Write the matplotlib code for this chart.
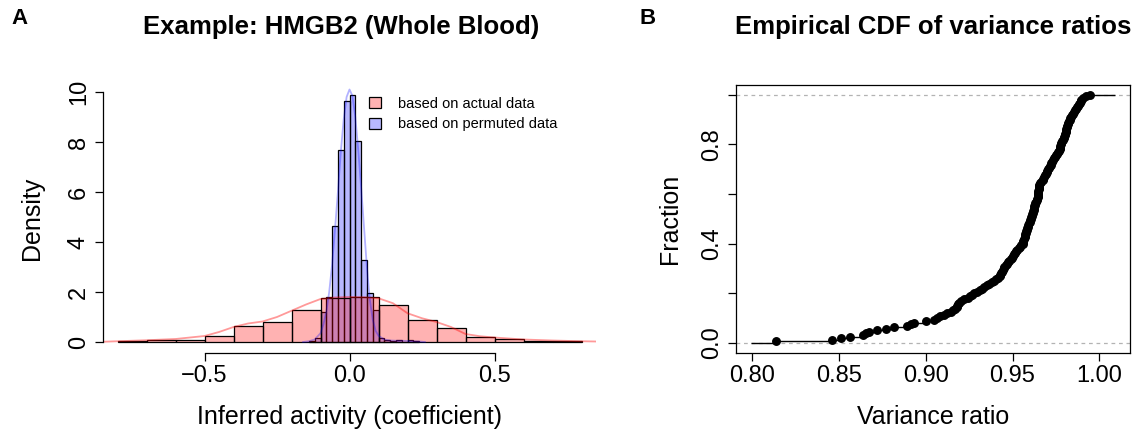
import numpy as np
import matplotlib.pyplot as plt
from matplotlib.patches import Patch

plt.rcParams['font.family'] = ['Liberation Sans', 'DejaVu Sans']

# ---- panel A: histograms (density scale) ----
red_breaks = [-0.8, -0.7, -0.6, -0.5, -0.4, -0.3, -0.2, -0.1, 0.0,
              0.1, 0.2, 0.3, 0.4, 0.5, 0.6, 0.7, 0.8]
red_density = [0.04, 0.10, 0.08, 0.25, 0.64, 0.80, 1.30, 1.75,
               1.79, 1.49, 0.89, 0.57, 0.21, 0.13, 0.05, 0.04]

blue_breaks = [-0.14, -0.12, -0.10, -0.08, -0.06, -0.04, -0.02, 0.00, 0.02, 0.04,
               0.06, 0.08, 0.10, 0.12, 0.14, 0.16, 0.18, 0.20, 0.22, 0.24]
blue_density = [0.05, 0.15, 1.19, 1.79, 4.65, 7.70, 9.65, 9.87, 8.06, 3.29,
                1.97, 1.28, 0.15, 0.08, 0.04, 0.07, 0.02, 0.07, 0.04]

# smoothed density lines
red_kde_x = [-0.85, -0.8, -0.7, -0.6, -0.5, -0.45, -0.4, -0.35, -0.3, -0.25, -0.2, -0.15,
             -0.1, -0.05, 0.0, 0.05, 0.1, 0.15, 0.2, 0.25, 0.3, 0.35, 0.4, 0.45,
             0.5, 0.6, 0.7, 0.8, 0.85]
red_kde_y = [0.01, 0.03, 0.07, 0.12, 0.24, 0.40, 0.60, 0.74, 0.82, 1.00, 1.25, 1.50,
             1.72, 1.78, 1.80, 1.79, 1.75, 1.55, 1.15, 0.95, 0.80, 0.60, 0.32, 0.23,
             0.18, 0.10, 0.06, 0.03, 0.02]

blue_kde_x = [-0.16, -0.14, -0.12, -0.10, -0.09, -0.08, -0.07, -0.06, -0.05, -0.04,
              -0.03, -0.02, -0.01, 0.0, 0.01, 0.02, 0.03, 0.04, 0.05, 0.06, 0.07,
              0.08, 0.09, 0.10, 0.12, 0.14, 0.16, 0.18, 0.20, 0.22, 0.24, 0.26]
blue_kde_y = [0.0, 0.03, 0.10, 0.35, 0.70, 1.20, 2.00, 3.10, 4.50, 6.00,
              7.60, 8.90, 9.80, 10.10, 9.85, 9.00, 7.70, 6.20, 4.60, 3.00, 1.70,
              0.90, 0.45, 0.25, 0.10, 0.06, 0.05, 0.05, 0.04, 0.03, 0.02, 0.0]

legend_labels = ['based on actual data', 'based on permuted data']

# ---- panel B: sorted variance ratios ----
variance_ratio = [
    0.8135, 0.8462, 0.8510, 0.8564, 0.8640, 0.8655, 0.8675, 0.8721, 0.8770, 0.8818,
    0.8894, 0.8915, 0.8933, 0.9000, 0.9045, 0.9065, 0.9080, 0.9103, 0.9125, 0.9143,
    0.9156, 0.9170, 0.9177, 0.9182, 0.9186, 0.9191, 0.9205, 0.9223, 0.9241, 0.9255,
    0.9264, 0.9276, 0.9293, 0.9311, 0.9325, 0.9338, 0.9351, 0.9365, 0.9379, 0.9391,
    0.9404, 0.9418, 0.9426, 0.9430, 0.9435, 0.9439, 0.9444, 0.9448, 0.9453, 0.9461,
    0.9468, 0.9475, 0.9482, 0.9490, 0.9498, 0.9503, 0.9507, 0.9513, 0.9521, 0.9528,
    0.9535, 0.9543, 0.9550, 0.9558, 0.9561, 0.9563, 0.9566, 0.9569, 0.9571, 0.9574,
    0.9577, 0.9580, 0.9582, 0.9585, 0.9588, 0.9591, 0.9595, 0.9598, 0.9602, 0.9605,
    0.9608, 0.9612, 0.9615, 0.9617, 0.9619, 0.9621, 0.9623, 0.9626, 0.9629, 0.9632,
    0.9636, 0.9639, 0.9642, 0.9645, 0.9646, 0.9647, 0.9648, 0.9649, 0.9650, 0.9651,
    0.9652, 0.9653, 0.9657, 0.9665, 0.9673, 0.9678, 0.9682, 0.9687, 0.9691, 0.9696,
    0.9700, 0.9705, 0.9710, 0.9715, 0.9720, 0.9724, 0.9729, 0.9734, 0.9739, 0.9744,
    0.9750, 0.9756, 0.9762, 0.9768, 0.9771, 0.9774, 0.9776, 0.9779, 0.9781, 0.9786,
    0.9790, 0.9795, 0.9799, 0.9801, 0.9804, 0.9806, 0.9808, 0.9810, 0.9812, 0.9815,
    0.9817, 0.9819, 0.9824, 0.9829, 0.9833, 0.9838, 0.9842, 0.9847, 0.9855, 0.9862,
    0.9868, 0.9874, 0.9880, 0.9885, 0.9888, 0.9892, 0.9897, 0.9905, 0.9925, 0.9948,
]

W, H = 1140, 433
fig = plt.figure(figsize=(W / 100, H / 100), dpi=100)

def box(l, r, t, b):
    return [l / W, 1 - b / H, (r - l) / W, (b - t) / H]

red_fill = (1, 0, 0, 0.3)
blue_fill = (0, 0, 1, 0.28)
TICK_FS = 17
LAB_FS = 18

# ---------- A ----------
axA = fig.add_axes(box(103, 596, 85, 352.7))
bb = np.array(blue_breaks)
rb = np.array(red_breaks)
axA.bar(bb[:-1], blue_density, width=np.diff(bb), align='edge',
        color=blue_fill, edgecolor='black', linewidth=0.9)
axA.bar(rb[:-1], red_density, width=np.diff(rb), align='edge',
        color=red_fill, edgecolor='black', linewidth=0.9)
axA.plot(blue_kde_x, blue_kde_y, color=(0, 0, 1, 0.3), lw=1.3)
axA.plot(red_kde_x, red_kde_y, color=(1, 0, 0, 0.4), lw=1.3)

axA.set_xlim(-0.85, 0.85)
axA.set_ylim(-0.428, 10.28)
axA.spines['top'].set_visible(False)
axA.spines['right'].set_visible(False)
axA.spines['left'].set_bounds(0, 10)
axA.spines['bottom'].set_bounds(-0.5, 0.5)
axA.set_xticks([-0.5, 0.0, 0.5])
axA.set_xticklabels(['\u22120.5', '0.0', '0.5'])
axA.set_yticks([0, 2, 4, 6, 8, 10])
axA.set_yticklabels(['0', '2', '4', '6', '8', '10'], rotation=90, va='center')
axA.set_xlabel('Inferred activity (coefficient)', fontsize=LAB_FS)
axA.set_ylabel('Density', fontsize=LAB_FS)
axA.xaxis.set_label_coords(0.5, -0.195)
axA.yaxis.set_label_coords(-0.12, 0.5)

handles = [Patch(facecolor=red_fill, edgecolor='black', lw=0.9),
           Patch(facecolor=blue_fill, edgecolor='black', lw=0.9)]
axA.legend(handles, legend_labels, loc='upper left', bbox_to_anchor=(0.54, 0.956),
           frameon=False, fontsize=10.5, handlelength=0.8, handleheight=0.8,
           handletextpad=1.2, labelspacing=0.45, borderaxespad=0, borderpad=0)

# ---------- B ----------
axB = fig.add_axes(box(736, 1130, 85, 352.7))
vr = np.array(variance_ratio)
n = len(vr)
frac = np.arange(1, n + 1) / n
dr = max(0.08 * (vr[-1] - vr[0]), np.median(np.diff(vr)))
axB.axhline(0, color='#B3B3B3', ls=(0, (3, 3)), lw=0.9)
axB.axhline(1, color='#B3B3B3', ls=(0, (3, 3)), lw=0.9)
seg_x0 = np.concatenate([[vr[0] - dr], vr])
seg_x1 = np.concatenate([vr, [vr[-1] + dr]])
seg_y = np.concatenate([[0], frac])
axB.hlines(seg_y, seg_x0, seg_x1, color='black', lw=1)
axB.plot(vr, frac, 'o', color='black', markersize=5.4)

axB.set_xlim(0.7906, 1.0177)
axB.set_ylim(-0.04, 1.04)
axB.set_xticks([0.80, 0.85, 0.90, 0.95, 1.00])
axB.set_xticklabels(['0.80', '0.85', '0.90', '0.95', '1.00'])
axB.set_yticks([0.0, 0.2, 0.4, 0.6, 0.8, 1.0])
axB.set_yticklabels(['0.0', '', '0.4', '', '0.8', ''], rotation=90, va='center')
axB.set_xlabel('Variance ratio', fontsize=LAB_FS)
axB.set_ylabel('Fraction', fontsize=LAB_FS)
axB.xaxis.set_label_coords(0.5, -0.195)
axB.yaxis.set_label_coords(-0.137, 0.5)

for ax in (axA, axB):
    ax.tick_params(direction='out', length=6, width=0.9, labelsize=TICK_FS)
    ax.tick_params(axis='x', pad=2.5)
    ax.tick_params(axis='y', pad=3.5)
    for s in ax.spines.values():
        s.set_linewidth(0.9)

fig.text(341 / W, 1 - 27 / H, 'Example: HMGB2 (Whole Blood)', ha='center', va='center',
         fontsize=18.5, fontweight='bold')
fig.text(933 / W, 1 - 27 / H, 'Empirical CDF of variance ratios', ha='center', va='center',
         fontsize=18.5, fontweight='bold')
fig.text(20 / W, 1 - 19 / H, 'A', ha='center', va='center', fontsize=16, fontweight='bold')
fig.text(648 / W, 1 - 19 / H, 'B', ha='center', va='center', fontsize=16, fontweight='bold')

fig.savefig('out.png', dpi=100)
